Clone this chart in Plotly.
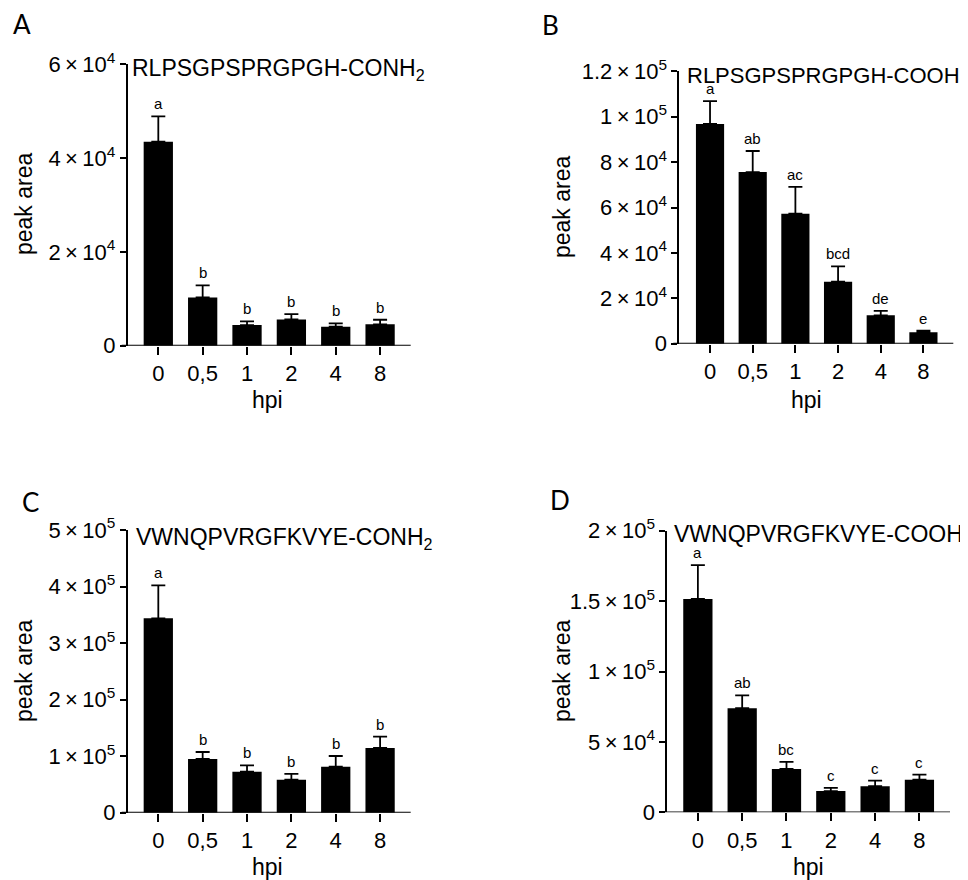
import plotly.graph_objects as go

W, H = 968, 880

categories = ["0", "0,5", "1", "2", "4", "8"]

# Panel A: RLPSGPSPRGPGH-CONH2
a_mean = [43500, 10300, 4400, 5600, 4050, 4550]
a_err = [5400, 2550, 800, 1120, 730, 980]
a_letters = ["a", "b", "b", "b", "b", "b"]

# Panel B: RLPSGPSPRGPGH-COOH
b_mean = [96800, 75600, 57300, 27300, 12500, 5000]
b_err = [10100, 9300, 11800, 6800, 2000, 700]
b_letters = ["a", "ab", "ac", "bcd", "de", "e"]

# Panel C: VWNQPVRGFKVYE-CONH2
c_mean = [343800, 95000, 72500, 58400, 81400, 114400]
c_err = [58400, 12400, 11300, 10100, 18900, 20000]
c_letters = ["a", "b", "b", "b", "b", "b"]

# Panel D: VWNQPVRGFKVYE-COOH
d_mean = [151500, 73900, 30800, 15100, 18500, 23200]
d_err = [24100, 9200, 5000, 2300, 4000, 3500]
d_letters = ["a", "ab", "bc", "c", "c", "c"]

X = "\u2009×\u2009"
a_ticks = [0, 20000, 40000, 60000]
a_ticktext = ["0", f"2{X}10<sup>4</sup>", f"4{X}10<sup>4</sup>", f"6{X}10<sup>4</sup>"]
b_ticks = [0, 20000, 40000, 60000, 80000, 100000, 120000]
b_ticktext = ["0", f"2{X}10<sup>4</sup>", f"4{X}10<sup>4</sup>", f"6{X}10<sup>4</sup>",
              f"8{X}10<sup>4</sup>", f"1{X}10<sup>5</sup>", f"1.2{X}10<sup>5</sup>"]
c_ticks = [0, 100000, 200000, 300000, 400000, 500000]
c_ticktext = ["0", f"1{X}10<sup>5</sup>", f"2{X}10<sup>5</sup>", f"3{X}10<sup>5</sup>",
              f"4{X}10<sup>5</sup>", f"5{X}10<sup>5</sup>"]
d_ticks = [0, 50000, 100000, 150000, 200000]
d_ticktext = ["0", f"5{X}10<sup>4</sup>", f"1{X}10<sup>5</sup>", f"1.5{X}10<sup>5</sup>", f"2{X}10<sup>5</sup>"]

titles = ["RLPSGPSPRGPGH-CONH<sub>2</sub>", "RLPSGPSPRGPGH-COOH",
          "VWNQPVRGFKVYE-CONH<sub>2</sub>", "VWNQPVRGFKVYE-COOH"]
panel_labels = ["A", "B", "C", "D"]

FONT = "Liberation Sans, Arial, sans-serif"
LW = 1.8
OFF = 8  # page body margin offset in the rendered screenshot

boxes = [
    (127.7, 410.7, 64.3, 345.7),
    (679.3, 953.3, 71.3, 343.7),
    (127.7, 410.7, 530.0, 812.7),
    (667.3, 950.0, 530.7, 812.3),
]
xranges = [[-0.69, 5.69], [-0.72, 5.70], [-0.69, 5.69], [-0.69, 5.69]]
yranges = [[0, 60000], [0, 120000], [0, 500000], [0, 200000]]
title_pos = [(131.5, 69), (686.5, 75), (136.0, 538), (674.0, 534)]
title_size = [23, 22, 23, 23]
label_pos = [(22, 24), (550, 25), (30, 502), (560, 500)]
ytitle_pos = [(24, 204), (562, 207), (24, 671), (562, 671)]
xtitle_pos = [(267, 400, "middle"), (806, 400, "middle"), (267, 880, "bottom"), (808, 880, "bottom")]

means = [a_mean, b_mean, c_mean, d_mean]
errs = [a_err, b_err, c_err, d_err]
letters = [a_letters, b_letters, c_letters, d_letters]
ticks = [a_ticks, b_ticks, c_ticks, d_ticks]
ticktexts = [a_ticktext, b_ticktext, c_ticktext, d_ticktext]
xpos = list(range(len(categories)))


def px(x):
    return (x - OFF) / W


def py(y):
    return 1 - (y - OFF) / H


fig = go.Figure()
annotations = []
shapes = []
layout = {}

for i in range(4):
    xa = "x" if i == 0 else f"x{i+1}"
    ya = "y" if i == 0 else f"y{i+1}"
    xl, xr, yt, yb = boxes[i]
    fig.add_trace(go.Bar(
        x=xpos, y=means[i], xaxis=xa, yaxis=ya,
        marker=dict(color="black", line=dict(width=0)),
        width=0.66,
        error_y=dict(type="data", array=errs[i], arrayminus=[0] * len(xpos),
                     symmetric=False, color="black", thickness=LW, width=7),
        showlegend=False, hoverinfo="skip",
    ))
    xkey = "xaxis" if i == 0 else f"xaxis{i+1}"
    ykey = "yaxis" if i == 0 else f"yaxis{i+1}"
    layout[xkey] = dict(
        domain=[px(xl), px(xr)], anchor=ya, automargin=False,
        range=xranges[i], showline=False, showgrid=False, zeroline=False,
        tickmode="array", tickvals=xpos, ticktext=categories,
        ticks="outside", ticklen=8, tickwidth=LW, tickcolor="black",
        tickfont=dict(family=FONT, size=22, color="black"),
        fixedrange=True,
    )
    layout[ykey] = dict(
        domain=[py(yb), py(yt)], anchor=xa, range=yranges[i], automargin=False,
        showline=True, linewidth=LW, linecolor="black",
        showgrid=False, zeroline=False,
        ticks="outside", ticklen=6, tickwidth=LW, tickcolor="black",
        tickmode="array", tickvals=ticks[i], ticktext=ticktexts[i],
        tickfont=dict(family=FONT, size=22, color="black"),
        fixedrange=True,
    )
    shapes.append(dict(type="line", xref="paper", yref=ya,
                       x0=px(xl - 6), x1=px(xr), y0=0, y1=0,
                       line=dict(color="black", width=LW)))
    tx, ty = title_pos[i]
    annotations.append(dict(text=titles[i], xref="paper", yref="paper",
                            x=px(tx), y=py(ty), xanchor="left", yanchor="middle",
                            showarrow=False, borderpad=0, borderwidth=0,
                            font=dict(family=FONT, size=title_size[i], color="black")))
    lx, lyy = label_pos[i]
    annotations.append(dict(text=panel_labels[i], xref="paper", yref="paper",
                            x=px(lx), y=py(lyy), xanchor="center", yanchor="middle",
                            showarrow=False,
                            font=dict(family="Lato, sans-serif", size=26, color="black")))
    yx, yy = ytitle_pos[i]
    annotations.append(dict(text="peak area", xref="paper", yref="paper",
                            x=px(yx), y=py(yy), xanchor="center", yanchor="middle",
                            textangle=-90, showarrow=False,
                            font=dict(family=FONT, size=23, color="black")))
    hx, hy, hanc = xtitle_pos[i]
    annotations.append(dict(text="hpi", xref="paper", yref="paper",
                            x=px(hx), y=py(hy), xanchor="center", yanchor=hanc,
                            showarrow=False, borderpad=0, borderwidth=0,
                            font=dict(family=FONT, size=23, color="black")))
    for xp, m, e, t in zip(xpos, means[i], errs[i], letters[i]):
        annotations.append(dict(text=t, xref=xa, yref=ya, x=xp, y=m + e,
                                xanchor="center", yanchor="bottom", yshift=2,
                                showarrow=False,
                                font=dict(family=FONT, size=15, color="black")))

fig.update_layout(
    width=W, height=H, margin=dict(l=0, r=0, t=0, b=0, pad=0, autoexpand=False),
    paper_bgcolor="white", plot_bgcolor="white",
    annotations=annotations, shapes=shapes,
    **layout,
)

fig.write_html("out.html")
